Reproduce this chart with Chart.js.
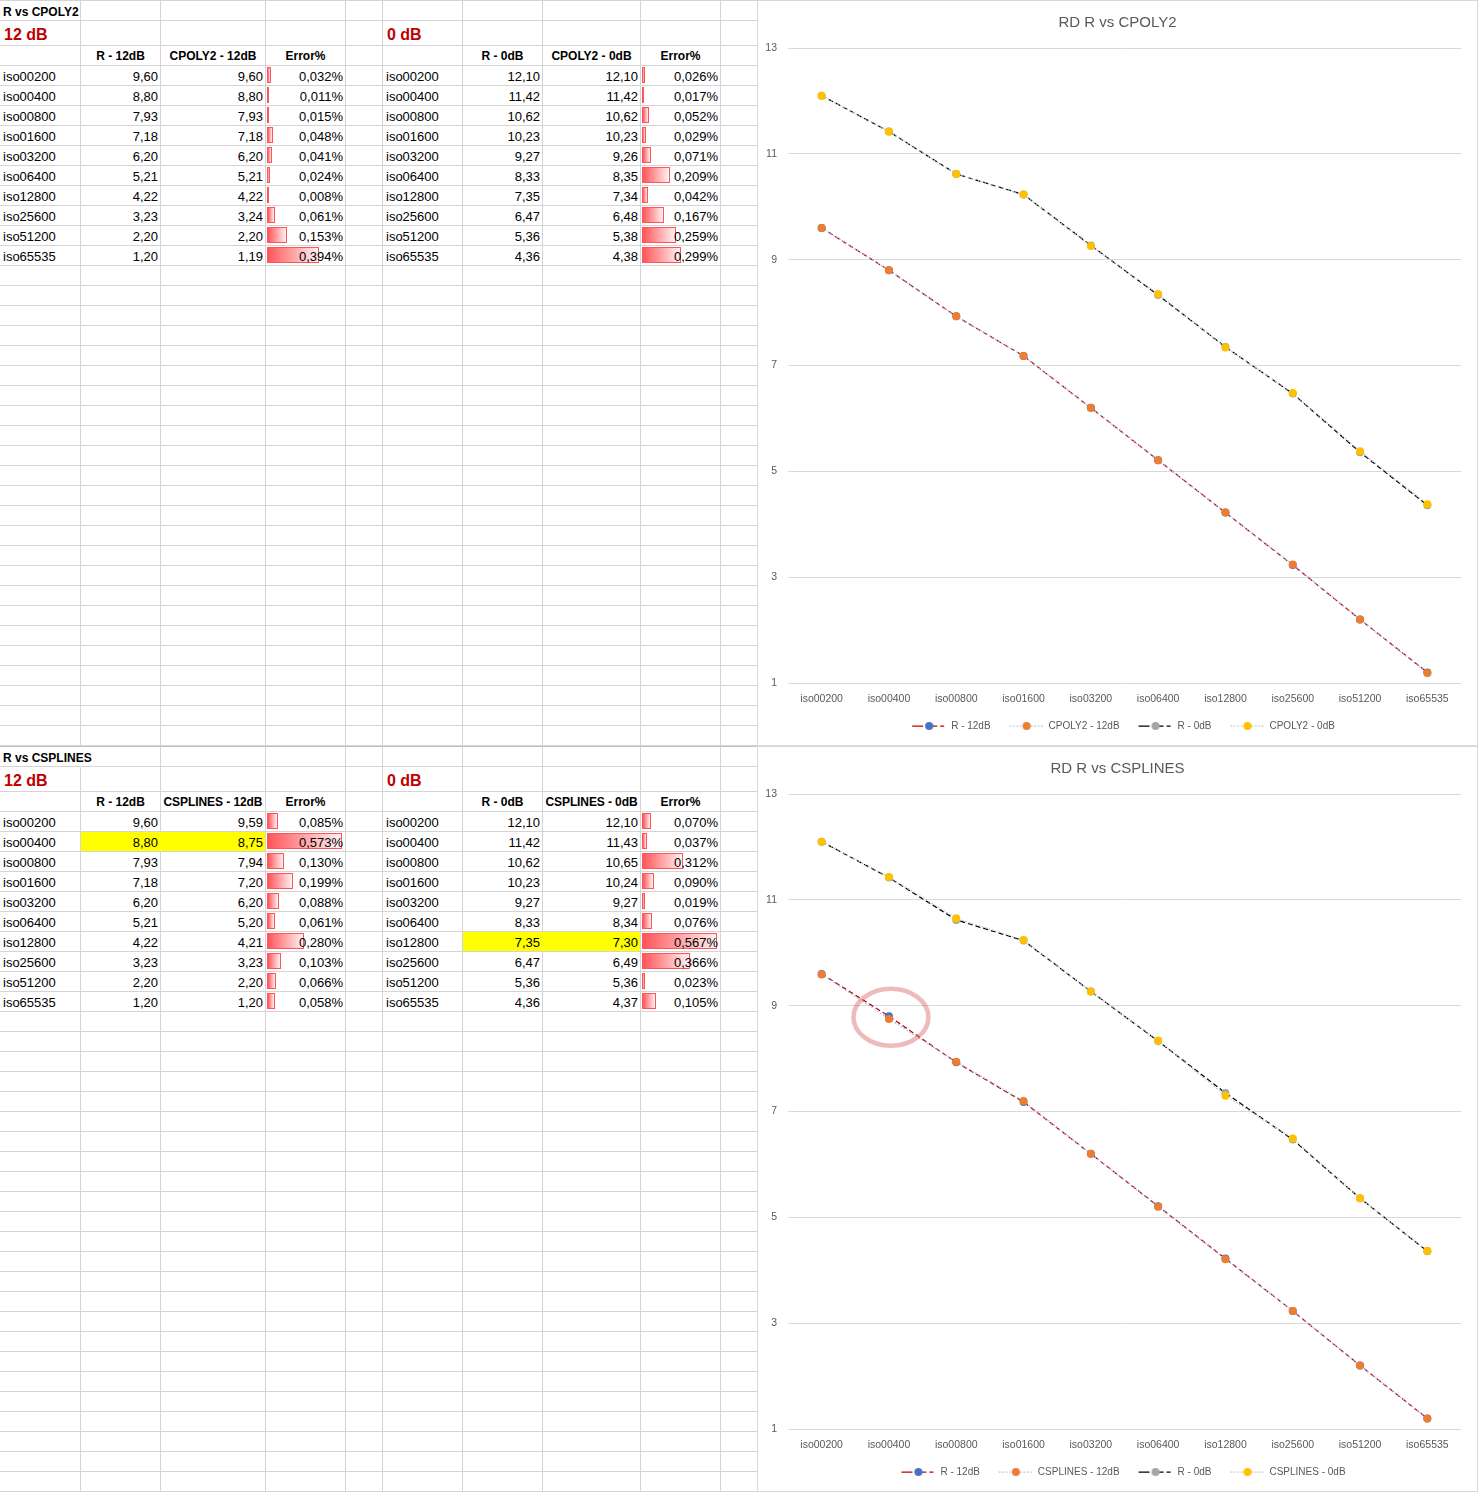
<!DOCTYPE html>
<html>
<head>
<meta charset="utf-8">
<script src="https://cdn.jsdelivr.net/npm/chart.js@4.4.0/dist/chart.umd.min.js"></script>
<style>
html,body{margin:0;padding:0;background:#fff;}
body{width:1478px;height:1492px;position:relative;overflow:hidden;font-family:'Liberation Sans',Arial,sans-serif;}
.half{position:absolute;left:0;width:1478px;height:746px;}
.cell{position:absolute;box-sizing:border-box;border-right:1px solid #d4d4d4;border-bottom:1px solid #d4d4d4;font-size:13px;line-height:19px;padding-top:1px;color:#000;white-space:nowrap;overflow:visible;}
.cell span{position:relative;z-index:2;}
.l{text-align:left;padding-left:3px;}
.r{text-align:right;padding-right:2px;}
.c{text-align:center;}
.ttl{font-weight:bold;font-size:12px;padding-top:2px;}
.db{font-weight:bold;font-size:16px;color:#C00000;line-height:24px;padding-left:4px;padding-top:2px;}
.hdr{font-weight:bold;font-size:12px;}
.bar{position:absolute;left:1px;top:1px;height:16px;box-sizing:border-box;border:1px solid #FF555A;background:linear-gradient(to right,#FF555A,#FFF2F2);z-index:1;}
.hl{background:#FFFF00;}
.topline{position:absolute;left:0;top:0;height:1px;width:757px;background:#d4d4d4;}
.chartbox{position:absolute;left:757px;top:0;width:721px;height:746px;box-sizing:border-box;border:1px solid #d9d9d9;background:#fff;}
.chartbox canvas{position:absolute;left:0;top:0;}
</style>
</head>
<body>
<script>
// ---------------- data ----------------
const categories = ['iso00200','iso00400','iso00800','iso01600','iso03200','iso06400','iso12800','iso25600','iso51200','iso65535'];
const r12      = [9.60, 8.80, 7.93, 7.18, 6.20, 5.21, 4.22, 3.23, 2.20, 1.20];
const r0       = [12.10, 11.42, 10.62, 10.23, 9.27, 8.33, 7.35, 6.47, 5.36, 4.36];
const cpoly12  = [9.60, 8.80, 7.93, 7.18, 6.20, 5.21, 4.22, 3.24, 2.20, 1.19];
const cpoly0   = [12.10, 11.42, 10.62, 10.23, 9.26, 8.35, 7.34, 6.48, 5.38, 4.38];
const cpolyErr12 = [0.032, 0.011, 0.015, 0.048, 0.041, 0.024, 0.008, 0.061, 0.153, 0.394];
const cpolyErr0  = [0.026, 0.017, 0.052, 0.029, 0.071, 0.209, 0.042, 0.167, 0.259, 0.299];
const cspl12   = [9.59, 8.75, 7.94, 7.20, 6.20, 5.20, 4.21, 3.23, 2.20, 1.20];
const cspl0    = [12.10, 11.43, 10.65, 10.24, 9.27, 8.34, 7.30, 6.49, 5.36, 4.37];
const csplErr12  = [0.085, 0.573, 0.130, 0.199, 0.088, 0.061, 0.280, 0.103, 0.066, 0.058];
const csplErr0   = [0.070, 0.037, 0.312, 0.090, 0.019, 0.076, 0.567, 0.366, 0.023, 0.105];
const yTicks = [1, 3, 5, 7, 9, 11, 13];
const errBarMax = 0.6;       // data-bar full-scale (percent)
const highlightAbove = 0.5;  // highlight rows whose error exceeds this (percent)

// ---------------- spreadsheet ----------------
const FONT = "'Liberation Sans', Arial, sans-serif";
const colRight = [80,160,265,345,382,462,542,640,720,757];
const rowBottom = [20,45,65];
for (let i = 0; i < categories.length; i++) rowBottom.push(85 + 20*i);
while (rowBottom[rowBottom.length-1] < 745) rowBottom.push(rowBottom[rowBottom.length-1] + 20);

const fmt2 = v => v.toFixed(2).replace('.', ',');
const fmtPct = v => v.toFixed(3).replace('.', ',') + '%';
const _mc = document.createElement('canvas').getContext('2d');
function textW(t, font) { _mc.font = font; return _mc.measureText(t).width; }

function cellContent(spec, r, c) {
  if (r === 0 && c === 0) return {text: spec.title, cls: 'ttl l'};
  if (r === 1 && c === 0) return {text: spec.leftLabel, cls: 'db'};
  if (r === 1 && c === 5) return {text: spec.rightLabel, cls: 'db'};
  const side = c < 5 ? spec.left : spec.right;
  const k = c < 5 ? c : c - 5;
  if (r === 2) {
    if (k >= 1 && k <= 3) return {text: side.headers[k-1], cls: 'hdr c'};
    return null;
  }
  const i = r - 3;
  if (i >= 0 && i < categories.length) {
    const hl = side.err[i] > highlightAbove;
    if (k === 0) return {text: categories[i], cls: 'l'};
    if (k === 1) return {text: fmt2(side.ref[i]), cls: 'r', hl};
    if (k === 2) return {text: fmt2(side.model[i]), cls: 'r', hl};
    if (k === 3) return {text: fmtPct(side.err[i]), cls: 'r', bar: side.err[i]};
  }
  return null;
}

function buildSheet(half, spec) {
  const tl = document.createElement('div'); tl.className = 'topline';
  if (spec.darkTop) tl.style.background = '#c4c4c4';
  half.appendChild(tl);
  for (let r = 0; r < rowBottom.length; r++) {
    const top = r === 0 ? 1 : rowBottom[r-1] + 1;
    const h = rowBottom[r] - top + 1;
    for (let c = 0; c < colRight.length; c++) {
      const left = c === 0 ? 0 : colRight[c-1] + 1;
      const w = colRight[c] - left + 1;
      const d = document.createElement('div');
      d.className = 'cell';
      d.style.left = left + 'px'; d.style.top = top + 'px';
      d.style.width = w + 'px'; d.style.height = h + 'px';
      const info = cellContent(spec, r, c);
      if (info) {
        d.className += ' ' + info.cls;
        if (info.hl) d.classList.add('hl');
        if (info.bar !== undefined) {
          const b = document.createElement('div');
          b.className = 'bar';
          b.style.width = Math.max(1, info.bar / errBarMax * (w - 1)) + 'px';
          d.appendChild(b);
        }
        const s = document.createElement('span');
        s.textContent = info.text;
        if (info.cls.indexOf('hdr') >= 0) {
          const tw = textW(info.text, 'bold 12px ' + FONT);
          const target = w - 6;
          if (tw > target) s.style.letterSpacing = ((target - tw) / info.text.length).toFixed(2) + 'px';
        }
        d.appendChild(s);
        if (info.hl) {
          const next = cellContent(spec, r, c+1);
          if (next && next.hl) d.style.borderRightColor = '#FFFF00';
        }
        if (info.cls.indexOf('ttl') >= 0 && textW(info.text, 'bold 12px ' + FONT) > w - 4) {
          d.style.borderRightColor = 'transparent';
        }
      }
      half.appendChild(d);
    }
  }
}

// ---------------- charts ----------------
function legendImg(lineColor, dash, dotColor) {
  const c = document.createElement('canvas'); c.width = 46; c.height = 10;
  const g = c.getContext('2d');
  g.strokeStyle = lineColor; g.lineWidth = 1.25; g.setLineDash(dash);
  g.beginPath(); g.moveTo(12, 5); g.lineTo(46, 5); g.stroke();
  g.setLineDash([]); g.fillStyle = dotColor;
  g.beginPath(); g.arc(29, 5, 4, 0, Math.PI*2); g.fill();
  return c;
}

const seriesStyle = [
  {line:'#C00000', dash:[5,3],   legendDash:[11,10,4,3,4,3], dot:'#4472C4', order:4},
  {line:'#9DC3E6', dash:[1.5,2], legendDash:[1.5,2],         dot:'#ED7D31', order:3},
  {line:'#000000', dash:[5,3],   legendDash:[11,10,4,3,4,3], dot:'#A5A5A5', order:2},
  {line:'#BFBFBF', dash:[1.5,2], legendDash:[1.5,2],         dot:'#FFC000', order:1}
];

function makeChart(half, title, names, series, mark) {
  const box = document.createElement('div'); box.className = 'chartbox';
  half.appendChild(box);
  const cv = document.createElement('canvas');
  cv.width = 719; cv.height = 744; cv.style.width = '719px'; cv.style.height = '744px';
  box.appendChild(cv);
  const imgs = seriesStyle.map(s => legendImg(s.line, s.legendDash, s.dot));
  const datasets = series.map((d, i) => ({
    label: names[i], data: d, yAxisID: 'y',
    borderColor: seriesStyle[i].line, borderDash: seriesStyle[i].dash, borderWidth: 1.25,
    pointBackgroundColor: seriesStyle[i].dot, pointBorderColor: seriesStyle[i].dot,
    pointBorderWidth: 0, pointRadius: 4, pointHoverRadius: 4,
    tension: 0, fill: false, order: seriesStyle[i].order
  }));
  const plugins = [];
  if (mark) {
    plugins.push({
      id: 'circleMark',
      afterDatasetsDraw(chart) {
        const {ctx, scales: {x, y}} = chart;
        const cx = x.getPixelForValue(mark.index) + 2;
        const cy = y.getPixelForValue(mark.values[mark.index]) + 1;
        ctx.save();
        ctx.beginPath();
        ctx.ellipse(cx, cy, 37.5, 28.5, 0, 0, Math.PI*2);
        ctx.lineWidth = 4.5;
        ctx.strokeStyle = 'rgba(215,90,90,0.42)';
        ctx.stroke();
        ctx.restore();
      }
    });
  }
  new Chart(cv, {
    type: 'line',
    data: {labels: categories, datasets},
    plugins,
    options: {
      responsive: false, animation: false, devicePixelRatio: 1,
      layout: {padding: {left: 8, right: 8, top: 0, bottom: 4}},
      plugins: {
        title: {display: true, text: title, color: '#595959',
                font: {family: FONT, size: 15, weight: 'normal'}, padding: {top: 13, bottom: 16}},
        legend: {
          position: 'bottom',
          labels: {
            color: '#595959', font: {family: FONT, size: 10},
            usePointStyle: true, pointStyleWidth: 46, padding: 7,
            generateLabels(chart) {
              return chart.data.datasets.map((ds, i) => ({
                text: ds.label, pointStyle: imgs[i], fillStyle: 'transparent',
                strokeStyle: 'transparent', lineWidth: 0, hidden: false, datasetIndex: i, fontColor: '#595959'
              }));
            }
          }
        },
        tooltip: {enabled: false}
      },
      scales: {
        x: {
          type: 'category', offset: true,
          grid: {display: false, drawTicks: false}, border: {display: false},
          ticks: {color: '#595959', font: {family: FONT, size: 10.5}, padding: 10, maxRotation: 0, autoSkip: false},
          afterFit(s) { s.height = 31; }
        },
        y: {
          position: 'left',
          min: yTicks[0], max: yTicks[yTicks.length-1],
          grid: {color: '#D9D9D9', lineWidth: 1, drawTicks: false}, border: {display: false},
          ticks: {color: '#595959', font: {family: FONT, size: 10.5}, padding: 11},
          afterBuildTicks(s) { s.ticks = yTicks.map(v => ({value: v})); },
          afterFit(s) { s.width = 22; }
        },
        yRightSpace: {
          position: 'right', display: true,
          grid: {display: false, drawTicks: false}, border: {display: false},
          ticks: {display: false},
          afterFit(s) { s.width = 8; }
        }
      }
    }
  });
}

function buildHalf(top, spec, chartSpec) {
  const half = document.createElement('div'); half.className = 'half'; half.style.top = top + 'px';
  document.body.appendChild(half);
  buildSheet(half, spec);
  makeChart(half, chartSpec.title, chartSpec.names, chartSpec.series, chartSpec.mark);
}

buildHalf(0, {
  title: 'R vs CPOLY2', leftLabel: '12 dB', rightLabel: '0 dB',
  left:  {headers: ['R - 12dB', 'CPOLY2 - 12dB', 'Error%'], ref: r12, model: cpoly12, err: cpolyErr12},
  right: {headers: ['R - 0dB', 'CPOLY2 - 0dB', 'Error%'], ref: r0, model: cpoly0, err: cpolyErr0}
}, {
  title: 'RD R vs CPOLY2',
  names: ['R - 12dB', 'CPOLY2 - 12dB', 'R - 0dB', 'CPOLY2 - 0dB'],
  series: [r12, cpoly12, r0, cpoly0]
});

buildHalf(746, {
  title: 'R vs CSPLINES', leftLabel: '12 dB', rightLabel: '0 dB', darkTop: true,
  left:  {headers: ['R - 12dB', 'CSPLINES - 12dB', 'Error%'], ref: r12, model: cspl12, err: csplErr12},
  right: {headers: ['R - 0dB', 'CSPLINES - 0dB', 'Error%'], ref: r0, model: cspl0, err: csplErr0}
}, {
  title: 'RD R vs CSPLINES',
  names: ['R - 12dB', 'CSPLINES - 12dB', 'R - 0dB', 'CSPLINES - 0dB'],
  series: [r12, cspl12, r0, cspl0],
  mark: {index: 1, values: r12}
});
</script>
</body>
</html>
